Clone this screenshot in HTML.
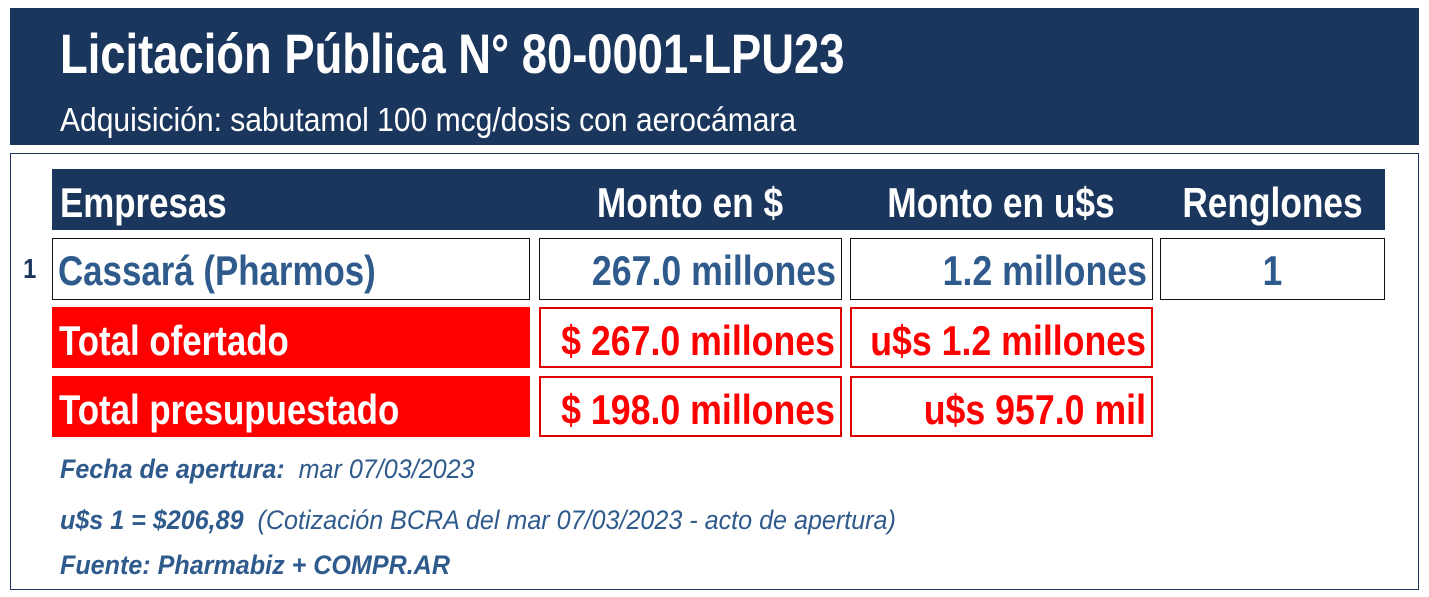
<!DOCTYPE html>
<html><head><meta charset="utf-8"><style>
body{margin:0;width:1429px;height:597px;background:#fff;position:relative;overflow:hidden;font-family:"Liberation Sans",sans-serif;}
div{position:absolute;box-sizing:border-box;white-space:nowrap;}
.t{font-weight:bold;font-size:42px;line-height:61px;}
.w{color:#fff;}
.b{color:#2f5a8c;}
.red{color:#ff0000;}
.L{transform:scaleX(0.83);transform-origin:left center;}
.R{transform:scaleX(0.85);transform-origin:right center;text-align:right;}
.C{transform:scaleX(0.84);transform-origin:center center;text-align:center;}
.bx{border:1.5px solid #111;}
.rb{border:2px solid #e00000;}
.n{color:#2f5a8c;font-style:italic;font-size:27px;transform:scaleX(0.93);transform-origin:left center;}
</style></head><body>
<div style="left:10px;top:8px;width:1409px;height:137px;background:#1b365d;"></div>
<div style="left:60px;top:22px;color:#fff;font-weight:bold;font-size:56px;line-height:64px;transform:scaleX(0.81);transform-origin:left center;">Licitación Pública N° 80-0001-LPU23</div>
<div style="left:60px;top:100px;color:#fff;font-size:33px;line-height:40px;transform:scaleX(0.91);transform-origin:left center;">Adquisición: sabutamol 100 mcg/dosis con aerocámara</div>
<div style="left:10px;top:153px;width:1409px;height:437px;border:1.5px solid #1b365d;"></div>

<div style="left:52px;top:169px;width:1333px;height:61px;background:#1b365d;"></div>
<div class="t w L" style="left:60px;top:172px;">Empresas</div>
<div class="t w C" style="left:539px;top:172px;width:302px;">Monto en $</div>
<div class="t w C" style="left:850px;top:172px;width:302px;">Monto en u$s</div>
<div class="t w C" style="left:1160px;top:172px;width:225px;">Renglones</div>

<div style="left:22px;top:240px;color:#1b365d;font-weight:bold;font-size:28px;line-height:58px;transform:scaleX(0.85);">1</div>
<div class="bx" style="left:52px;top:238px;width:478px;height:62px;"></div>
<div class="bx" style="left:539px;top:238px;width:303px;height:62px;"></div>
<div class="bx" style="left:850px;top:238px;width:303px;height:62px;"></div>
<div class="bx" style="left:1160px;top:238px;width:225px;height:62px;"></div>
<div class="t b L" style="left:58px;top:240px;">Cassará (Pharmos)</div>
<div class="t b R" style="left:439px;top:240px;width:397px;">267.0 millones</div>
<div class="t b R" style="left:750px;top:240px;width:397px;">1.2 millones</div>
<div class="t b C" style="left:1160px;top:240px;width:225px;">1</div>

<div style="left:52px;top:307px;width:478px;height:61px;background:#ff0000;"></div>
<div class="rb" style="left:539px;top:307px;width:303px;height:61px;"></div>
<div class="rb" style="left:850px;top:307px;width:303px;height:61px;"></div>
<div style="left:52px;top:376px;width:478px;height:61px;background:#ff0000;"></div>
<div class="rb" style="left:539px;top:376px;width:303px;height:61px;"></div>
<div class="rb" style="left:850px;top:376px;width:303px;height:61px;"></div>
<div class="t w L" style="left:59px;top:310px;">Total ofertado</div>
<div class="t red R" style="left:435px;top:310px;width:400px;">$ 267.0 millones</div>
<div class="t red R" style="left:746px;top:310px;width:400px;">u$s 1.2 millones</div>
<div class="t w L" style="left:59px;top:379px;">Total presupuestado</div>
<div class="t red R" style="left:435px;top:379px;width:400px;">$ 198.0 millones</div>
<div class="t red R" style="left:746px;top:379px;width:400px;">u$s 957.0 mil</div>

<div class="n" style="left:60px;top:454px;"><b>Fecha de apertura:</b>&nbsp; mar 07/03/2023</div>
<div class="n" style="left:60px;top:505px;"><b>u$s 1 = $206,89</b>&nbsp; (Cotización BCRA del mar 07/03/2023 - acto de apertura)</div>
<div class="n" style="left:60px;top:550px;"><b>Fuente: Pharmabiz + COMPR.AR</b></div>
</body></html>
